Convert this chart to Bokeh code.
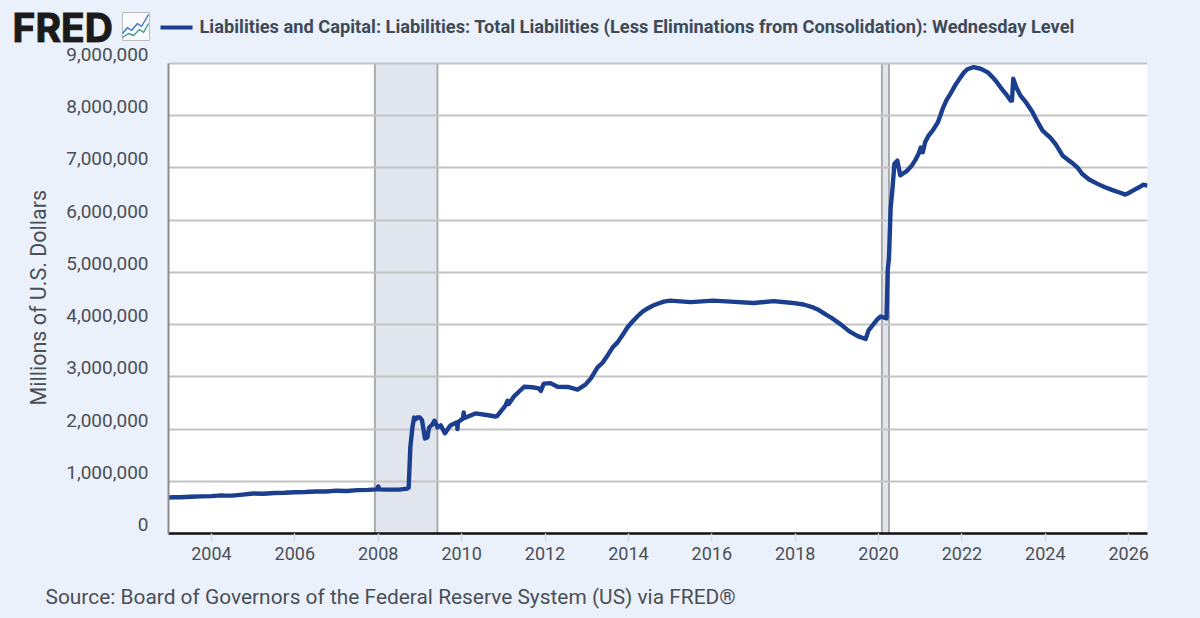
from bokeh.plotting import figure
from bokeh.embed import file_html
from bokeh.resources import INLINE
from bokeh.core.properties import value
from bokeh.models import Range1d, LinearAxis, FixedTicker, NumeralTickFormatter, Title

# ---- data ----
years = [2002.97,2003.1,2003.25,2003.5,2003.75,2004.0,2004.25,2004.3,2004.5,2004.75,2005.0,2005.25,2005.5,2005.75,
         2006.0,2006.25,2006.5,2006.75,2007.0,2007.25,2007.5,2007.75,2007.97,2008.0,2008.03,2008.2,2008.5,2008.7,
         2008.73,2008.77,2008.82,2008.86,2008.9,2008.93,2009.0,2009.05,2009.12,2009.18,2009.22,2009.3,2009.35,2009.42,
         2009.5,2009.6,2009.73,2009.89,2009.9,2009.91,2010.03,2010.05,2010.07,2010.33,2010.6,2010.81,2010.85,2011.05,
         2011.1,2011.13,2011.5,2011.7,2011.85,2011.9,2011.97,2012.13,2012.3,2012.57,2012.78,2012.97,2013.1,2013.26,
         2013.5,2013.74,2013.98,2014.22,2014.46,2014.7,2015.0,2015.49,2016.04,2016.45,2017.0,2017.48,2017.89,2018.2,
         2018.54,2018.85,2019.1,2019.3,2019.5,2019.69,2019.76,2019.97,2020.05,2020.19,2020.22,2020.25,2020.29,2020.33,
         2020.38,2020.45,2020.52,2020.69,2020.96,2021.01,2021.06,2021.2,2021.42,2021.54,2021.73,2021.96,2022.13,2022.28,
         2022.62,2022.81,2022.93,2023.17,2023.2,2023.23,2023.4,2023.69,2023.93,2024.12,2024.41,2024.67,2024.88,2025.24,
         2025.63,2025.92,2026.11,2026.35,2026.45]
liabilities = [690000,695000,695000,705000,710000,715000,730000,725000,725000,745000,765000,760000,775000,780000,
               790000,795000,805000,805000,820000,815000,830000,835000,845000,900000,845000,840000,840000,860000,
               880000,1650000,2030000,2220000,2190000,2220000,2220000,2170000,1820000,1840000,2030000,2090000,2160000,2030000,
               2070000,1920000,2070000,2130000,2000000,2130000,2200000,2320000,2210000,2300000,2270000,2240000,2250000,2450000,
               2540000,2480000,2810000,2800000,2780000,2730000,2870000,2880000,2810000,2805000,2755000,2850000,2970000,3180000,
               3410000,3660000,3950000,4160000,4310000,4400000,4460000,4430000,4460000,4440000,4415000,4450000,4420000,4385000,
               4290000,4140000,4000000,3870000,3780000,3725000,3890000,4100000,4155000,4120000,5040000,5280000,6240000,6570000,
               7080000,7140000,6860000,6950000,7270000,7390000,7300000,7620000,7870000,8140000,8430000,8730000,8890000,8930000,
               8830000,8670000,8540000,8290000,8290000,8710000,8390000,8070000,7720000,7580000,7240000,7080000,6890000,6700000,
               6570000,6490000,6570000,6680000,6660000]
more_years = [2011.25,2011.38,2013.38,2013.62,2013.86,2014.1,2014.34,2014.58,2014.85,2018.43,2018.74,
              2020.6,2020.8,2020.88,2021.12,2021.3,2021.48,2021.63,2021.85,2022.05,2022.45,2022.72,
              2023.05,2023.3,2023.55,2023.8,2024.02,2024.25,2024.55,2024.78,2025.05,2025.43,2025.78,2026.0,2026.25]
more_values = [2620000,2720000,3270000,3560000,3800000,4060000,4250000,4360000,4440000,4330000,4190000,
               6900000,7050000,7150000,7500000,7720000,8000000,8300000,8600000,8830000,8900000,8750000,
               8420000,8550000,8240000,7900000,7650000,7450000,7150000,7000000,6780000,6630000,6530000,6520000,6630000]
recession_start = [2007.92, 2020.08]
recession_end = [2009.42, 2020.25]
y_ticks = [0,1000000,2000000,3000000,4000000,5000000,6000000,7000000,8000000,9000000]
x_ticks = [2004,2006,2008,2010,2012,2014,2016,2018,2020,2022,2024,2026]
x_tick_labels = ["2004","2006","2008","2010","2012","2014","2016","2018","2020","2022","2024","2026"]
title_text = "Liabilities and Capital: Liabilities: Total Liabilities (Less Eliminations from Consolidation): Wednesday Level"
y_title = "Millions of U.S. Dollars"
source_text = "Source: Board of Governors of the Federal Reserve System (US) via FRED®"

merged = sorted(zip(years + more_years, liabilities + more_values))
series_x = [a for a, b in merged]
series_y = [b for a, b in merged]

# ---- style ----
BG = "#EAF1FB"; NAVY = "#1B3E8F"; GRID = "#C4C4C4"; TXT = "#4A4F55"
W = 1190
HEAD_H, OVERLAP, MAIN_H, FOOT_H = 54, 12, 528, 40   # head reaches 12px under the main figure's empty top
FL, FB = 168, 533   # frame left and bottom in page pixels
FONT = "Roboto"
Y_TOP = 9402500     # headroom above 9M holds the topmost tick label

def strip(height):
    f = figure(width=W, height=height, output_backend="svg", toolbar_location=None,
               x_range=Range1d(0, W), y_range=Range1d(height, 0), x_axis_type=None, y_axis_type=None,
               min_border=0, background_fill_color=BG, border_fill_color=BG, outline_line_color=None)
    f.xgrid.visible = False; f.ygrid.visible = False
    return f

# header strip: logo, icon, legend
head = strip(HEAD_H)
head.text(x=[12], y=[27], text=["FRED"], text_font=value("Inter"), text_font_style="bold", text_font_size="39px",
          text_color="#1A1A1A", text_outline_color="#1A1A1A", text_baseline="middle")
head.quad(left=[122], right=[149], top=[12], bottom=[40], fill_color="#F8FAFC", line_color="#BDBDBD", line_width=1)
head.line([122,127,131,137,141,148], [33,27,30,23,26,14], line_color="#3C6FD8", line_width=1.4)
head.line([122,128,133,139,143,148], [37,33,35,29,32,23], line_color="#3F9C86", line_width=1.4)
head.line([160,192], [27,27], line_color=NAVY, line_width=4)
head.text(x=[199], y=[26], text=[title_text], text_font=value(FONT), text_font_style="bold", text_font_size="18.25px",
          text_color="#3F4A58", text_baseline="middle")

# main chart
p = figure(width=W, height=MAIN_H, output_backend="svg", toolbar_location=None,
           x_range=Range1d(2002.97, 2026.45), y_range=Range1d(0, Y_TOP),
           min_border_left=FL, min_border_right=W-1147, min_border_top=0,
           min_border_bottom=HEAD_H-OVERLAP+MAIN_H-FB,
           background_fill_color=BG, border_fill_color=BG, outline_line_color=None,
           margin=(-OVERLAP, 0, 0, 0))

p.xgrid.visible = False
p.ygrid.ticker = FixedTicker(ticks=y_ticks)
p.ygrid.grid_line_color = GRID
p.ygrid.grid_line_width = 2.2

xa = p.xaxis[0]
xa.ticker = FixedTicker(ticks=x_ticks)
xa.major_label_overrides = {t: l for t, l in zip(x_ticks, x_tick_labels)}
xa.axis_line_color = "#111111"; xa.axis_line_width = 2.5
xa.major_tick_line_color = "#D3DBE8"; xa.major_tick_line_width = 1.5
xa.major_tick_in = 0; xa.major_tick_out = 8; xa.minor_tick_line_color = None
xa.major_label_text_font = FONT; xa.major_label_text_font_size = "18px"; xa.major_label_text_color = TXT
xa.major_label_standoff = 5

ya = p.yaxis[0]
ya.ticker = FixedTicker(ticks=y_ticks)
ya.bounds = (0, 9000000)
ya.axis_line_color = "#8C8C8C"; ya.axis_line_width = 2
ya.major_tick_line_color = None; ya.minor_tick_line_color = None
ya.major_label_text_font_size = "0px"
ya.major_label_text_color = None

# y labels sit slightly above their gridlines: shifted companion range
shift = 172000
p.extra_y_ranges = {"labels": Range1d(-shift, Y_TOP - shift)}
la = LinearAxis(y_range_name="labels", ticker=FixedTicker(ticks=y_ticks),
                formatter=NumeralTickFormatter(format="0,0"))
la.axis_line_color = None; la.major_tick_line_color = None; la.minor_tick_line_color = None
la.major_label_text_font = FONT; la.major_label_text_font_size = "19px"; la.major_label_text_color = TXT
la.major_label_standoff = 8
p.add_layout(la, "left")
# the y title is centred on the 0-9M span, not on the taller frame: a left title with an offset
p.add_layout(Title(text=y_title, align="left", offset=128, standoff=26, text_font=FONT, text_font_size="21.5px",
                   text_font_style="normal", text_color=TXT), "left")

p.quad(left=[2002.97], right=[2026.45], bottom=[0], top=[9000000], fill_color="white", line_color=None, level="image")
p.quad(left=recession_start, right=recession_end, bottom=0, top=9000000,
       fill_color="#E1E5EE", line_color=None, level="image")
p.segment(x0=recession_start + recession_end, x1=recession_start + recession_end,
          y0=0, y1=9000000, line_color="#ABABAB", line_width=2, level="underlay")

p.line(series_x, series_y, line_color=NAVY, line_width=4.4, line_join="round")

# footer strip
foot = strip(FOOT_H)
foot.text(x=[45], y=[26], text=[source_text], text_font=value(FONT), text_font_size="20.9px",
          text_color=TXT, text_baseline="middle")

html = file_html([head, p, foot], INLINE).replace("<head>", "<head><style>html,body{background:%s;}</style>" % BG, 1)
open("out.html", "w").write(html)
